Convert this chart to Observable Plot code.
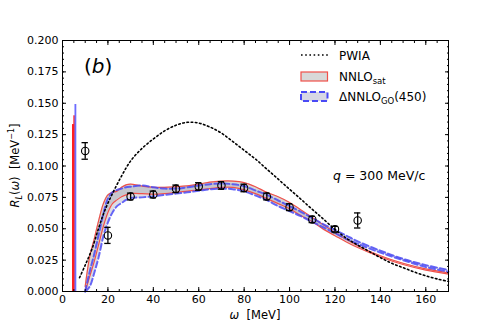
<!DOCTYPE html>
<html><head><meta charset="utf-8">
<script src="https://cdn.jsdelivr.net/npm/d3@7"></script>
<script src="https://cdn.jsdelivr.net/npm/@observablehq/plot@0.6"></script>
<style>
body{margin:0;background:#fff;}
#chart svg{font-family:"DejaVu Sans",sans-serif;}
</style>
</head><body><div id="chart"></div>
<script>
// ---- data ----
const xMajor = [0,20,40,60,80,100,120,140,160];
const xMinor = d3.range(0,171,5);
const yMajor = [0,0.025,0.05,0.075,0.1,0.125,0.15,0.175,0.2];
const yMinor = d3.range(0,0.2001,0.005);

// PWIA
const pwiaOmega = [7.5,10,13,16,18.5,22,26,30,35,40,45,50,55,60,65,70,75,80,85,90,95,100,105,110,115,120,125,130,135,140,145,150,155,160,165,170];
const pwiaR     = [0.011,0.021,0.034,0.051,0.064,0.078,0.092,0.104,0.114,0.1215,0.128,0.1325,0.1348,0.1342,0.131,0.1262,0.1195,0.1125,0.1055,0.0975,0.0895,0.0815,0.0735,0.0655,0.0575,0.0495,0.0425,0.037,0.032,0.027,0.0225,0.019,0.0155,0.0125,0.01,0.008];

// band grid
const bandOmega = [10,12,14,16,18,20,22,24,26,28,30,35,40,45,50,55,60,65,70,75,80,85,90,95,100,105,110,115,120,125,130,140,150,160,170];
// NNLOsat
const satUpper = [0.004,0.028,0.042,0.057,0.070,0.077,0.079,0.080,0.083,0.085,0.0855,0.084,0.083,0.083,0.0835,0.0842,0.0855,0.0872,0.088,0.088,0.0868,0.0835,0.079,0.0755,0.071,0.065,0.059,0.053,0.047,0.0415,0.0365,0.0285,0.0225,0.018,0.0148];
const satLower = [0.0,0.012,0.024,0.038,0.052,0.063,0.070,0.073,0.0755,0.077,0.078,0.078,0.0775,0.078,0.079,0.080,0.081,0.082,0.083,0.083,0.081,0.078,0.074,0.070,0.066,0.0605,0.0555,0.0495,0.0445,0.0395,0.035,0.0275,0.0215,0.017,0.0138];
// Delta NNLO_GO(450)
const goUpper = [0.0,0.016,0.030,0.046,0.062,0.074,0.079,0.081,0.082,0.083,0.0835,0.0845,0.083,0.082,0.082,0.083,0.0845,0.0855,0.086,0.0855,0.084,0.0805,0.077,0.0725,0.068,0.0635,0.0585,0.0535,0.049,0.0445,0.040,0.0325,0.026,0.021,0.0172];
const goLower = [0.0,0.004,0.015,0.028,0.044,0.055,0.063,0.068,0.0705,0.073,0.0745,0.075,0.0758,0.077,0.078,0.079,0.0802,0.0815,0.082,0.0815,0.0798,0.0765,0.0728,0.068,0.064,0.060,0.0555,0.051,0.0465,0.042,0.038,0.031,0.025,0.0195,0.0158];

// bound-state spikes
const spikeX1 = [4.4,5.0,5.5];
const spikeX2 = [5.3,5.6,6.3];
const spikeH  = [0.133,0.140,0.149];
const spikeColor = ["#ff2020","#ff2020","#3b3bff"];
const spikeOpacity = [1,1,0.75];

// experiment
const expOmega = [10,20,30,40,50,60,70,80,90,100,110,120,130];
const expR     = [0.112,0.0447,0.0757,0.0773,0.0818,0.0837,0.0845,0.0825,0.0757,0.0672,0.0574,0.0497,0.0566];
const expErr   = [0.0066,0.0064,0.0027,0.0027,0.003,0.003,0.003,0.003,0.0027,0.0027,0.0025,0.0022,0.006];

// ---- tables ----
const pwia = pwiaOmega.map((x,i)=>({x, y:pwiaR[i]}));
const band = bandOmega.map((x,i)=>({x, su:satUpper[i], sl:satLower[i], gu:goUpper[i], gl:goLower[i]}));
const spikes = spikeX1.map((x1,i)=>({x1, x2:spikeX2[i], y:spikeH[i], c:spikeColor[i], o:spikeOpacity[i]}));
const exp = expOmega.map((x,i)=>({x, y:expR[i], e:expErr[i]}));

const RED = "#f0504a", BLUE = "#4a4af5";
const curve = "catmull-rom";
const fmt3 = d3.format(".3f");

const chart = Plot.plot({
  width: 498, height: 332,
  marginLeft: 62, marginRight: 50, marginTop: 40, marginBottom: 41,
  x: {domain: [0,170]},
  y: {domain: [0,0.2]},
  style: {fontSize: "11px", fontFamily: "DejaVu Sans, sans-serif", color: "black", background: "white"},
  marks: [
    Plot.areaY(band, {x:"x", y1:"sl", y2:"su", fill:"#b4b4b4", fillOpacity:0.55, curve}),
    Plot.areaY(band, {x:"x", y1:"gl", y2:"gu", fill:"#b4b4c4", fillOpacity:0.45, curve}),
    Plot.line(band, {x:"x", y:"su", stroke:RED, strokeWidth:1.2, curve}),
    Plot.line(band, {x:"x", y:"sl", stroke:RED, strokeWidth:1.2, curve}),
    Plot.line(band, {x:"x", y:"gu", stroke:BLUE, strokeWidth:2, strokeDasharray:"6,3", strokeOpacity:0.85, curve}),
    Plot.line(band, {x:"x", y:"gl", stroke:BLUE, strokeWidth:2, strokeDasharray:"6,3", strokeOpacity:0.85, curve}),
    Plot.rectY(spikes, {x1:"x1", x2:"x2", y1:0, y2:"y", fill:"c", fillOpacity:"o"}),
    Plot.line(pwia, {x:"x", y:"y", stroke:"black", strokeWidth:1.6, strokeDasharray:"1.6,2.6", curve}),
    Plot.ruleX(exp, {x:"x", y1:d=>d.y-d.e, y2:d=>d.y+d.e, stroke:"black", strokeWidth:1.3}),
    Plot.ruleY(exp, {y:d=>d.y+d.e, x1:d=>d.x-1.4, x2:d=>d.x+1.4, stroke:"black", strokeWidth:1.3}),
    Plot.ruleY(exp, {y:d=>d.y-d.e, x1:d=>d.x-1.4, x2:d=>d.x+1.4, stroke:"black", strokeWidth:1.3}),
    Plot.dot(exp, {x:"x", y:"y", r:3.7, stroke:"black", strokeWidth:1.1, fill:"none"}),
    Plot.frame({stroke:"black", strokeWidth:1}),
    Plot.axisX({ticks:xMajor, tickSize:-4, tickPadding:8, tickFormat:d=>String(d), label:null}),
    Plot.axisX({ticks:xMinor, tickSize:-2, tickFormat:()=>"", label:null}),
    Plot.axisX({anchor:"top", ticks:xMajor, tickSize:-4, tickFormat:()=>"", label:null}),
    Plot.axisX({anchor:"top", ticks:xMinor, tickSize:-2, tickFormat:()=>"", label:null}),
    Plot.axisY({ticks:yMajor, tickSize:-4, tickPadding:8, tickFormat:fmt3, label:null}),
    Plot.axisY({ticks:yMinor, tickSize:-2, tickFormat:()=>"", label:null}),
    Plot.axisY({anchor:"right", ticks:yMajor, tickSize:-4, tickFormat:()=>"", label:null}),
    Plot.axisY({anchor:"right", ticks:yMinor, tickSize:-2, tickFormat:()=>"", label:null})
  ]
});
document.getElementById("chart").appendChild(chart);

// ---- annotations (labels, legend) ----
const svg = d3.select(chart);
const g = svg.append("g").attr("font-family","DejaVu Sans, sans-serif").attr("fill","black").attr("text-anchor","start");

// x label
const xl = g.append("text").attr("x",255).attr("y",319).attr("text-anchor","middle").attr("font-size","11.5px");
xl.append("tspan").attr("font-style","italic").text("ω");
xl.append("tspan").text("  [MeV]");

// y label
const yl = g.append("text").attr("transform","translate(19,165.5) rotate(-90)").attr("text-anchor","middle").attr("font-size","11.5px");
yl.append("tspan").attr("font-style","italic").text("R");
yl.append("tspan").attr("font-style","italic").attr("font-size","8px").attr("dy","3").text("L");
yl.append("tspan").attr("dy","-3").text("(");
yl.append("tspan").attr("font-style","italic").text("ω");
yl.append("tspan").text(")  [MeV");
yl.append("tspan").attr("font-size","8px").attr("dy","-5").text("−1");
yl.append("tspan").attr("dy","5").text("]");

// panel tag
const tb = g.append("text").attr("x",84).attr("y",73).attr("font-size","20px");
tb.append("tspan").text("(");
tb.append("tspan").attr("font-style","italic").text("b");
tb.append("tspan").text(")");

// q label
const ql = g.append("text").attr("x",333).attr("y",180).attr("font-size","12.5px");
ql.append("tspan").attr("font-style","italic").text("q");
ql.append("tspan").text(" = 300 MeV/c");

// legend
const lg = g.append("g").attr("font-size","12px");
lg.append("line").attr("x1",301).attr("x2",328).attr("y1",55).attr("y2",55)
  .attr("stroke","black").attr("stroke-width",1.6).attr("stroke-dasharray","1.6,2.6");
lg.append("text").attr("x",339).attr("y",59.5).text("PWIA");
lg.append("rect").attr("x",301).attr("y",72).attr("width",26.5).attr("height",9)
  .attr("fill","#d8d8d8").attr("stroke",RED).attr("stroke-width",1.2);
const t2 = lg.append("text").attr("x",339).attr("y",80.5);
t2.append("tspan").text("NNLO");
t2.append("tspan").attr("font-size","8.5px").attr("dy","3").text("sat");
lg.append("rect").attr("x",301).attr("y",92).attr("width",26.5).attr("height",9)
  .attr("fill","#d8d8e4").attr("stroke",BLUE).attr("stroke-width",2).attr("stroke-dasharray","6,3");
const t3 = lg.append("text").attr("x",339).attr("y",100.5);
t3.append("tspan").text("ΔNNLO");
t3.append("tspan").attr("font-size","8.5px").attr("dy","3").text("GO");
t3.append("tspan").attr("dy","-3").text("(450)");
</script>
</body></html>
